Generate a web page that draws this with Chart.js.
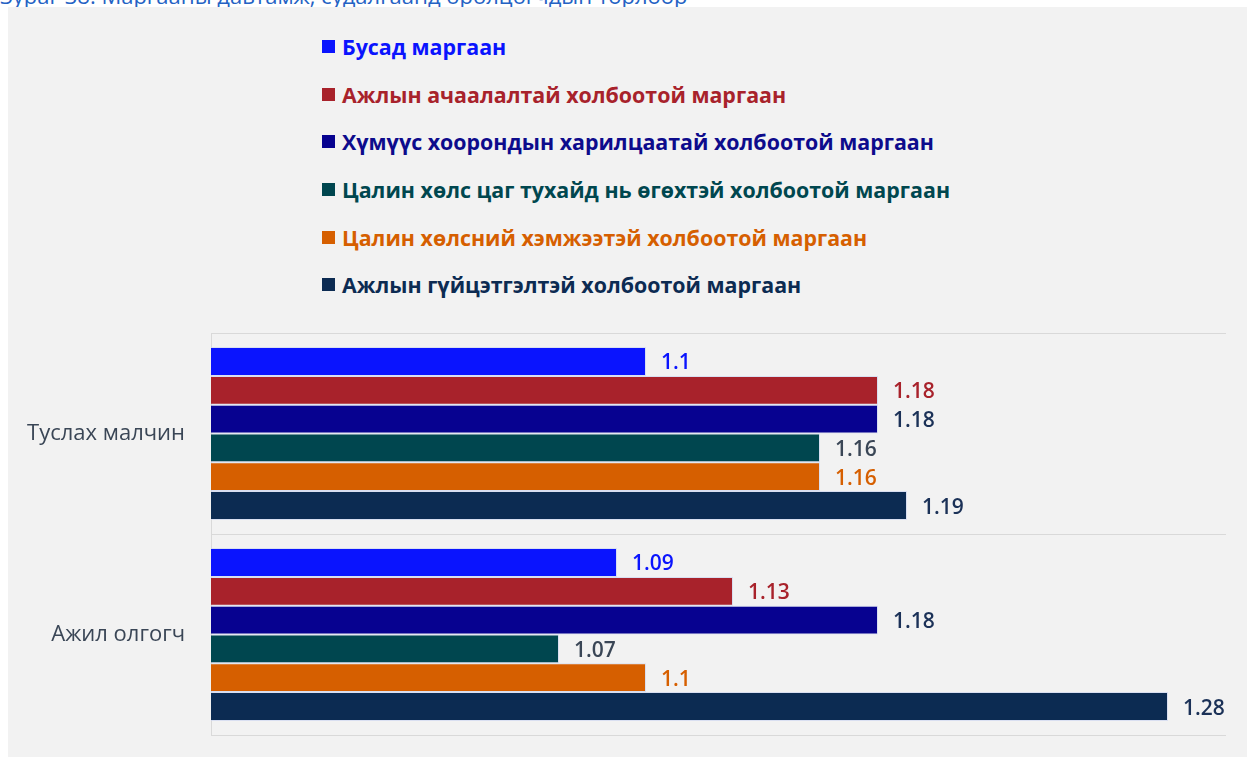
<!DOCTYPE html>
<html>
<head>
<meta charset="utf-8">
<script src="https://cdn.jsdelivr.net/npm/chart.js@4"></script>
<style>
  body { margin: 0; background: #fff; width: 1247px; height: 757px; overflow: hidden; position: relative; font-family: "Open Sans", sans-serif; }
  .title { position: absolute; left: 0; top: -16px; font-size: 22px; line-height: 22px; color: #2462c4; white-space: nowrap; }
  .panel { position: absolute; left: 8px; top: 7px; right: 0; bottom: 0; background: #f2f2f2; }
  #legend { position: absolute; left: 322px; top: 23px; margin: 0; padding: 0; list-style: none; }
  #legend li { height: 47.6px; display: flex; align-items: center; font-size: 21.4px; font-weight: 700; white-space: nowrap; }
  #legend li span { display: inline-block; width: 13px; height: 13px; margin-right: 7px; }
  .wrap { position: absolute; left: 0; top: 318px; width: 1247px; height: 439px; }
</style>
</head>
<body>
<div class="title">Зураг 38. Маргааны давтамж, судалгаанд оролцогчдын төрлөөр</div>
<div class="panel"></div>
<ul id="legend"></ul>
<div class="wrap"><canvas id="chart"></canvas></div>
<script>
const categories = ['Туслах малчин', 'Ажил олгогч'];
const seriesNames = [
  'Бусад маргаан',
  'Ажлын ачаалалтай холбоотой маргаан',
  'Хүмүүс хоорондын харилцаатай холбоотой маргаан',
  'Цалин хөлс цаг тухайд нь өгөхтэй холбоотой маргаан',
  'Цалин хөлсний хэмжээтэй холбоотой маргаан',
  'Ажлын гүйцэтгэлтэй холбоотой маргаан'
];
const otherDisputes = [1.1, 1.09];
const workloadDisputes = [1.18, 1.13];
const relationsDisputes = [1.18, 1.18];
const payTimingDisputes = [1.16, 1.07];
const payAmountDisputes = [1.16, 1.1];
const performanceDisputes = [1.19, 1.28];

const barColors = ['#0a14fe', '#a8222b', '#070290', '#00464f', '#d65f00', '#0c2b52'];
const legendColors = ['#0a14fe', '#a8222b', '#0d0b8c', '#00474f', '#d65f00', '#0c2b52'];
const valueColors = ['#0a14fe', '#a8222b', '#1b3157', '#3a4656', '#d65f00', '#1b3157'];
const allValues = [otherDisputes, workloadDisputes, relationsDisputes, payTimingDisputes, payAmountDisputes, performanceDisputes];

// value labels drawn right of each bar
const valueLabels = {
  id: 'valueLabels',
  afterDatasetsDraw(chart) {
    const ctx = chart.ctx;
    ctx.save();
    ctx.font = '600 21px "Open Sans"';
    ctx.textBaseline = 'middle';
    ctx.textAlign = 'left';
    chart.data.datasets.forEach((ds, i) => {
      chart.getDatasetMeta(i).data.forEach((bar, j) => {
        ctx.fillStyle = valueColors[i];
        ctx.fillText(String(ds.data[j]), bar.x + 15, bar.y + 2);
      });
    });
    ctx.restore();
  }
};

new Chart(document.getElementById('chart'), {
  type: 'bar',
  data: {
    labels: categories,
    datasets: allValues.map((vals, i) => ({
      label: seriesNames[i],
      data: vals,
      backgroundColor: barColors[i],
      borderColor: 'rgba(200,210,240,0.6)',
      borderWidth: 1,
      borderSkipped: 'left',
      categoryPercentage: 0.86,
      barPercentage: 1.0
    }))
  },
  options: {
    indexAxis: 'y',
    responsive: true,
    maintainAspectRatio: false,
    animation: false,
    layout: { padding: { top: 15, right: 21, bottom: 22, left: 0 } },
    plugins: {
      legend: { display: false },
      tooltip: { enabled: false }
    },
    scales: {
      x: {
        display: false,
        min: 0.95,
        max: 1.3
      },
      y: {
        afterFit(scale) { scale.width = 211; },
        grid: { color: '#d9d9d9', lineWidth: 1, drawTicks: true, tickLength: 26, tickColor: 'rgba(0,0,0,0)' },
        border: { color: '#d9d9d9' },
        ticks: {
          padding: 0,
          color: '#3a4656',
          font: { family: '"Open Sans"', size: 22 }
        }
      }
    }
  },
  plugins: [valueLabels]
});

const legendEl = document.getElementById('legend');
seriesNames.forEach((name, i) => {
  const li = document.createElement('li');
  li.style.color = legendColors[i];
  li.innerHTML = '<span style="background:' + barColors[i] + '"></span>' + name;
  legendEl.appendChild(li);
});
</script>
</body>
</html>
